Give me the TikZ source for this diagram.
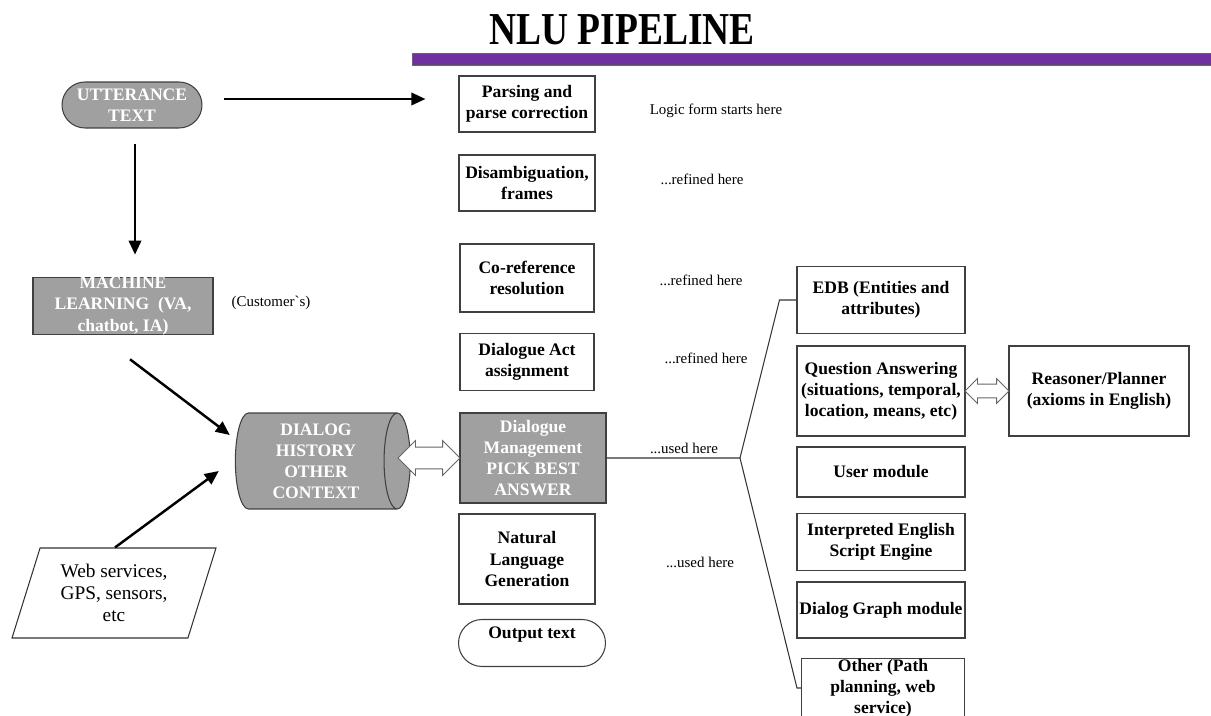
\documentclass[tikz,border=0pt]{standalone}
\usepackage{fontspec}
\setmainfont{Liberation Serif}
\usetikzlibrary{arrows.meta, shapes.geometric, shapes.misc, shapes.arrows, calc}
\usetikzlibrary{positioning}
\definecolor{grisboite}{RGB}{160,160,160}
\definecolor{barreviolette}{RGB}{112,48,160}
\tikzstyle{fleche} = [-{Triangle[length=8pt,width=7pt]},line width=1.4pt]
\tikzstyle{trait} = [-,line width=0.6pt,draw=black!80]
\tikzstyle{boite} = [draw=black!75,line width=0.6pt,align=center,inner sep=0pt,font=\bfseries\fontsize{10}{12}\selectfont]
\tikzstyle{boitegrise} = [boite,fill=grisboite,text=white]
\tikzstyle{note} = [font=\fontsize{8.5}{10}\selectfont]
\tikzstyle{flechedouble} = [double arrow,draw=black!60,fill=white,line width=0.5pt,inner xsep=0pt]

\begin{document}
\begin{tikzpicture}[x=0.02cm,y=-0.02cm]

	\useasboundingbox (0,0) rectangle (1211,716);

	%% Titre
	\node (Titre) at (622,30) {\scalebox{0.82}[1]{\fontsize{26}{30}\selectfont\bfseries NLU PIPELINE}};
	\filldraw[fill=barreviolette,draw=black!60,line width=0.5pt] (412,53) rectangle (1211,65);

	%% Entrees
	\node[boitegrise,rounded rectangle,minimum width=2.8cm,minimum height=0.92cm] (utt) at (132,105) {UTTERANCE\\TEXT};
	\node[boitegrise,minimum width=3.6cm,minimum height=1.12cm] (ml) at (123,306) {MACHINE\\LEARNING~ (VA,\\chatbot, IA)};
	\node[note] (cust) at (271,303) {(Customer\textasciigrave s)};
	\node[draw=black!80,line width=0.6pt,trapezium,trapezium left angle=64,trapezium right angle=116,trapezium stretches body,minimum width=4.08cm,minimum height=1.8cm,align=center,inner sep=0pt,font=\fontsize{11}{12.5}\selectfont] (web) at (114,593) {Web services,\\GPS, sensors,\\etc};
	\node[boitegrise,cylinder,aspect=0.35,minimum width=1.92cm,minimum height=3.5cm] (dh) at (316,461) {DIALOG\\HISTORY\\OTHER\\CONTEXT};

	%% Pipeline
	\node[boite,minimum width=2.72cm,minimum height=1.12cm] (parse) at (527,104) {Parsing and\\parse correction};
	\node[boite,minimum width=2.72cm,minimum height=1.12cm] (disamb) at (527,183) {Disambiguation,\\frames};
	\node[boite,minimum width=2.68cm,minimum height=1.36cm] (coref) at (527,278) {Co-reference\\resolution};
	\node[boite,minimum width=2.68cm,minimum height=1.14cm] (act) at (527,362) {Dialogue Act\\assignment};
	\node[boitegrise,minimum width=2.92cm,minimum height=1.8cm] (dm) at (533,458) {Dialogue\\Management\\PICK BEST\\ANSWER};
	\node[boite,minimum width=2.72cm,minimum height=1.8cm] (nlg) at (527,559) {Natural\\Language\\Generation};
	\node[boite,rounded rectangle,minimum width=2.94cm,minimum height=0.94cm] (out) at (532,643) {Output text\\~};

	\node[note] (n1) at (716,111) {Logic form starts here};
	\node[note] (n2) at (702,179) {...refined here};
	\node[note] (n3) at (701,280) {...refined here};
	\node[note] (n4) at (706,358) {...refined here};
	\node[note] (n5) at (684,448) {...used here};
	\node[note] (n6) at (700,562) {...used here};

	%% Modules
	\node[boite,minimum width=3.36cm,minimum height=1.34cm] (edb) at (881,300) {EDB (Entities and\\attributes)};
	\node[boite,minimum width=3.36cm,minimum height=1.8cm] (qa) at (881,391) {Question Answering\\(situations, temporal,\\location, means, etc)};
	\node[boite,minimum width=3.36cm,minimum height=1.0cm] (user) at (881,472) {User module};
	\node[boite,minimum width=3.36cm,minimum height=1.14cm] (script) at (881,542) {Interpreted English\\Script Engine};
	\node[boite,minimum width=3.36cm,minimum height=1.12cm] (graph) at (881,610) {Dialog Graph module};
	\node[boite,minimum width=3.26cm,minimum height=1.14cm] (autre) at (883,688) {Other (Path\\planning, web\\service)};
	\node[boite,minimum width=3.6cm,minimum height=1.8cm] (reason) at (1099,391) {Reasoner/Planner\\(axioms in English)};

	%% Fleches
	\draw[fleche] ($(utt.east)+(21,-6)$) -- ($(utt.east -| parse.west)+(-33,-6)$);
	\draw[fleche] ($(utt.south)+(3,15)$) -- ($(utt.south |- ml.north)+(3,-22)$);
	\draw[fleche] ($(ml.south)+(7,24)$) -- ($(dh.west)+(-5,-26)$);
	\draw[fleche] ($(web.north)+(1,0)$) -- ($(dh.west)+(-16,10)$);

	\node[flechedouble,minimum height=1.24cm,inner ysep=0.21cm,double arrow head extend=0.13cm] (da1) at (429,458) {};
	\node[flechedouble,minimum height=0.88cm,inner ysep=0.13cm,double arrow head extend=0.11cm] (da2) at (987,391) {};

	\coordinate (fan) at (740,458);
	\draw[trait] (dm.east) -- (fan) -- ($(edb.west)+(-17,0)$) -- (edb.west);
	\draw[trait] (fan) -- ($(autre.west)+(-4,0)$) -- (autre.west);

\end{tikzpicture}
\end{document}
